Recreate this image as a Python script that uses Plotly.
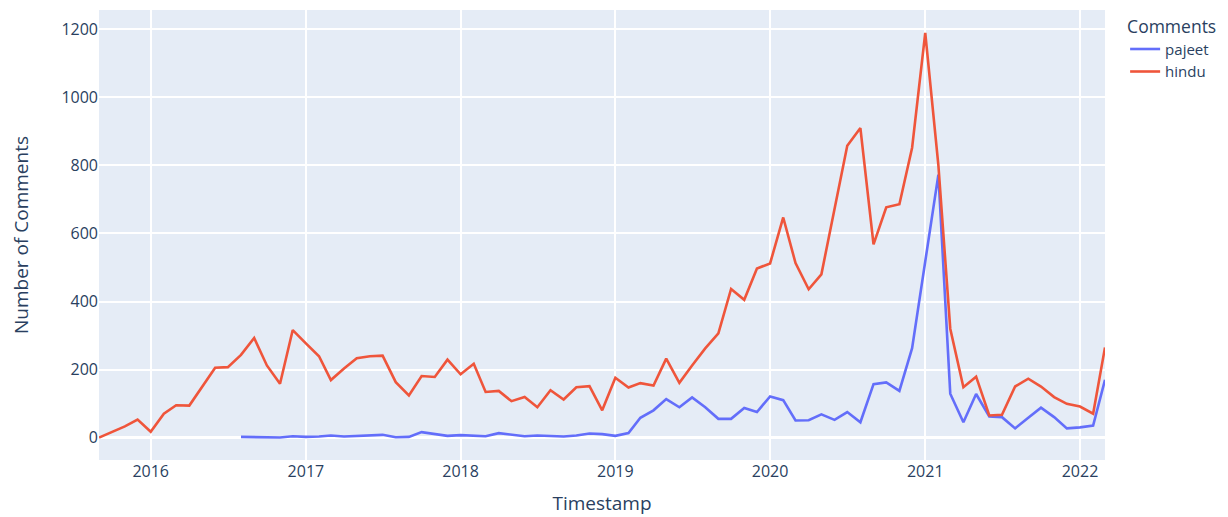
import pandas as pd
import plotly.graph_objects as go

# monthly buckets, Sep 2015 -> Mar 2022
months = pd.date_range("2015-09-01", "2022-03-01", freq="MS")

hindu = [
    0, 17, 33, 53, 17, 70, 95, 94, 150, 205, 207, 243, 293, 212, 158, 316,
    277, 239, 169, 203, 233, 239, 241, 163, 124, 181, 178, 229,
    186, 217, 134, 137, 107, 119, 89, 139, 112, 148, 151, 80,
    176, 147, 160, 153, 232, 161, 212, 262, 306, 437, 405, 497,
    512, 647, 513, 436, 480, 672, 858, 910, 568, 677, 686, 852,
    1190, 800, 320, 148, 179, 65, 67, 150, 173, 150, 119, 99,
    91, 70, 265,
]

# pajeet only shows up from Aug 2016
pajeet_start = "2016-08-01"
pajeet = [
    2, 1, 1, 0, 4,
    2, 3, 6, 3, 5, 7, 8, 1, 2, 16, 10, 5,
    7, 6, 4, 13, 9, 4, 6, 5, 3, 6, 12, 10,
    5, 13, 58, 80, 113, 89, 118, 89, 55, 55, 87, 75,
    121, 110, 50, 51, 68, 52, 75, 45, 157, 162, 137, 263,
    520, 773, 129, 45, 128, 62, 60, 27, 58, 88, 60, 27,
    30, 35, 170,
]
pajeet_months = months[months >= pajeet_start]

fig = go.Figure()
fig.add_trace(go.Scatter(x=pajeet_months, y=pajeet, mode="lines", name="pajeet",
                         line=dict(color="#636EFA", width=2.6)))
fig.add_trace(go.Scatter(x=months, y=hindu, mode="lines", name="hindu",
                         line=dict(color="#EF553B", width=2.6)))

# page body has an 8px margin, so margins are shifted to compensate
fig.update_layout(
    width=1228,
    height=517,
    template="plotly",
    font=dict(family="Open Sans, Arial, sans-serif", size=16, color="#2a3f5f"),
    margin=dict(l=91, r=131, t=2, b=65),
    legend=dict(title=dict(text="Comments", font=dict(size=17.5)), font=dict(size=15),
                x=1.02, y=1, tracegroupgap=2),
)
fig.update_xaxes(title=dict(text="Timestamp", font=dict(size=19), standoff=15),
                 gridwidth=1.5, automargin=False)
fig.update_yaxes(title=dict(text="Number of Comments", font=dict(size=19), standoff=30),
                 range=[-66, 1257], dtick=200, gridwidth=1.5,
                 zerolinewidth=3, automargin=False)

fig.write_html("out.html")
